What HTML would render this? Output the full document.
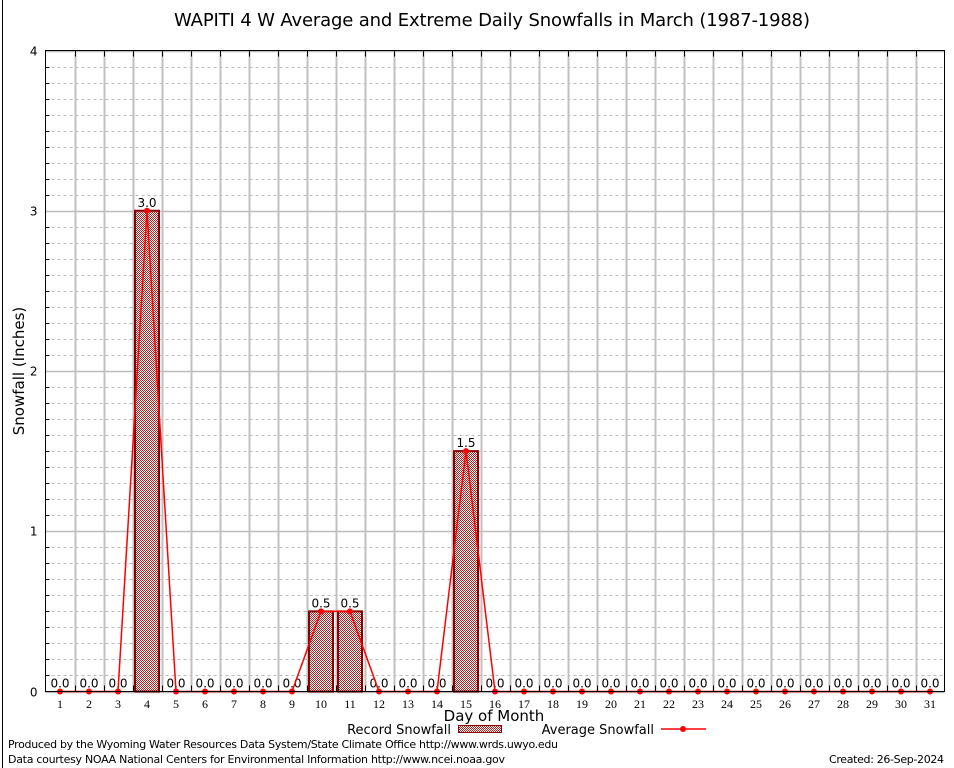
<!DOCTYPE html>
<html><head><meta charset="utf-8"><style>
body{margin:0;background:#fff}
svg{display:block;font-family:"DejaVu Sans","Liberation Sans",sans-serif}
</style></head><body>
<svg id="chart" width="954" height="768" viewBox="0 0 954 768" xmlns="http://www.w3.org/2000/svg">
<defs>
<pattern id="hatch" width="2" height="2" patternUnits="userSpaceOnUse">
<rect width="2" height="2" fill="#fff"/>
<rect x="0" y="0" width="1" height="1" fill="#b82020"/>
<rect x="1" y="1" width="1" height="1" fill="#b82020"/>
</pattern>
</defs>
<line x1="2.5" y1="0" x2="2.5" y2="768" stroke="#000"/>
<text x="492" y="26" font-size="18" text-anchor="middle" textLength="636">WAPITI 4 W Average and Extreme Daily Snowfalls in March (1987-1988)</text>
<g id="grid"></g>
<g id="bars"></g>
<g id="line"></g>
<rect x="45.5" y="50.5" width="899" height="641" fill="none" stroke="#000"/>
<g id="axes"></g>
<text x="24" y="371" font-size="15" text-anchor="middle" transform="rotate(-90 24 371)">Snowfall (Inches)</text>
<text x="494" y="721" font-size="15" text-anchor="middle">Day of Month</text>
<g>
<text x="451" y="734" font-size="13" text-anchor="end">Record Snowfall</text>
<rect x="458.5" y="725.5" width="43" height="7" fill="url(#hatch)" stroke="#8b0000"/>
<text x="654" y="734" font-size="13" text-anchor="end">Average Snowfall</text>
<line x1="661" y1="729" x2="706" y2="729" stroke="#f00" stroke-width="1.5"/>
<circle cx="683" cy="729" r="3" fill="#f00"/>
</g>
<text x="8" y="748" font-size="11" textLength="550">Produced by the Wyoming Water Resources Data System/State Climate Office http://www.wrds.uwyo.edu</text>
<text x="8" y="763" font-size="11" textLength="497">Data courtesy NOAA National Centers for Environmental Information http://www.ncei.noaa.gov</text>
<text x="944" y="763" font-size="11" text-anchor="end" textLength="115">Created: 26-Sep-2024</text>
</svg>
<script>
const days = [1,2,3,4,5,6,7,8,9,10,11,12,13,14,15,16,17,18,19,20,21,22,23,24,25,26,27,28,29,30,31];
const recordSnow = [0,0,0,3.0,0,0,0,0,0,0.5,0.5,0,0,0,1.5,0,0,0,0,0,0,0,0,0,0,0,0,0,0,0,0];
const avgSnow = [0,0,0,3.0,0,0,0,0,0,0.5,0.5,0,0,0,1.5,0,0,0,0,0,0,0,0,0,0,0,0,0,0,0,0];
const yTicks = [0,1,2,3,4];
const NS='http://www.w3.org/2000/svg';
const L=45.5,R=944.5,T=50.5,B=691.5,yMax=4;
const step=(R-L)/days.length;
function xS(d){return L+(d-0.5)*step;}
function yS(v){return B-(v/yMax)*(B-T);}
function mk(p,tag,at){const e=document.createElementNS(NS,tag);for(const k in at)e.setAttribute(k,at[k]);p.appendChild(e);return e;}
const grid=document.getElementById('grid'),axes=document.getElementById('axes'),bars=document.getElementById('bars'),line=document.getElementById('line');
for(let i=1;i<yMax*10;i++){if(i%10===0)continue;const y=Math.round(yS(i/10))+0.5;
const g=mk(grid,'line',{x1:L,x2:R,y1:y,y2:y,stroke:'#bbb','stroke-dasharray':'3,3'});


const t=mk(axes,'line',{x1:L,x2:L+4,y1:y,y2:y,stroke:'#000'});

}
yTicks.forEach(v=>{const y=Math.round(yS(v))+0.5;
const g=mk(grid,'line',{x1:L,x2:R,y1:y,y2:y,stroke:'#bbb','stroke-width':1.5});


const t=mk(axes,'text',{x:L-8,y:y+4,'font-size':12,'text-anchor':'end'});t.textContent=v;

});
for(let i=1;i<days.length;i++){const x=Math.round(L+i*step)+0.5;
const g=mk(grid,'line',{x1:x,x2:x,y1:T,y2:B,stroke:'#c0c0c0','stroke-width':2});


const a=mk(axes,'line',{x1:x,x2:x,y1:T,y2:T+6,stroke:'#000'});


const b=mk(axes,'line',{x1:x,x2:x,y1:B-6,y2:B,stroke:'#000'});

}
days.forEach((d,i)=>{const x=xS(d);
const t=mk(axes,'text',{x:x,y:708,'font-size':12,'text-anchor':'middle','font-family':'"Liberation Serif",serif'});t.textContent=d;


const v=recordSnow[i];
if(v>0){const r=mk(bars,'rect',{x:x-12,y:yS(v),width:24,height:B-yS(v),fill:'url(#hatch)',stroke:'#8b0000','stroke-width':2});

}
const lb=mk(bars,'text',{x:x,y:yS(v)-4,'font-size':12,'text-anchor':'middle'});lb.textContent=v.toFixed(1);

});
const pts=days.map((d,i)=>xS(d)+','+yS(avgSnow[i])).join(' ');
const pl=mk(line,'polyline',{points:pts,fill:'none',stroke:'#f00','stroke-width':1.5});


days.forEach((d,i)=>{const c=mk(line,'circle',{cx:xS(d),cy:yS(avgSnow[i]),r:3,fill:'#f00'});

});
</script>
</body></html>
